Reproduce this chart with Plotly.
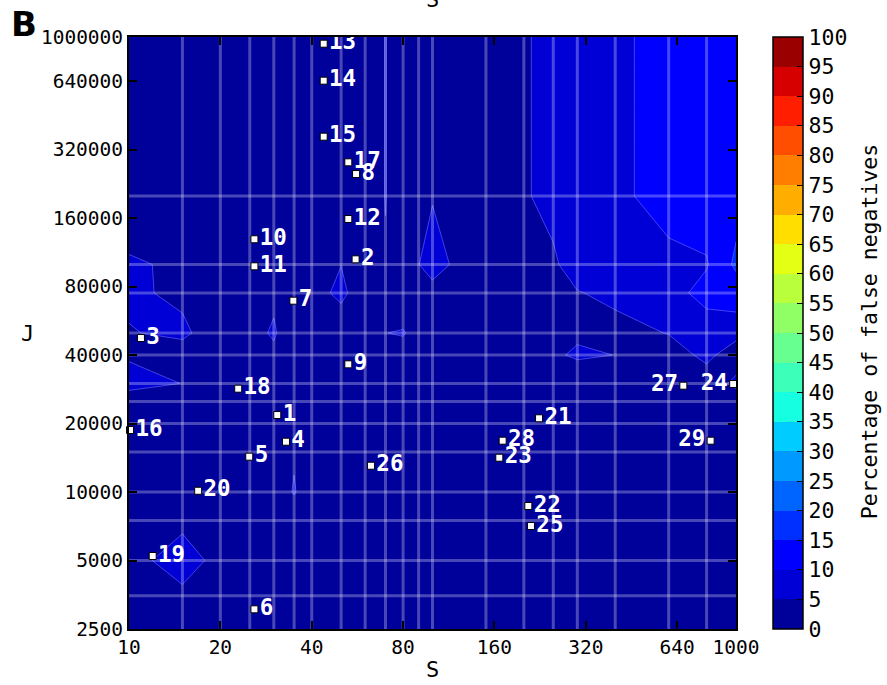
import numpy as np
import plotly.graph_objects as go

# Sampled grid: S along columns, J along rows
s_grid = [10, 15, 20, 25, 30, 35, 40, 50, 60, 70, 80, 90, 100,
          150, 200, 250, 300, 400, 600, 800, 1000]
j_grid = [2500, 3500, 5000, 7500, 10000, 15000, 20000, 25000, 30000,
          40000, 50000, 75000, 100000, 200000, 1000000]

# Percentage of false negatives, one row per J value (columns follow s_grid)
fn_j2500 = [0, 0, 0, 0, 0, 0, 0, 0, 0, 0, 0, 0, 0, 0, 0, 0, 0, 0, 0, 0, 0]
fn_j3500 = [0, 3.6, 0, 0, 0, 0, 0, 0, 0, 0, 0, 0, 0, 0, 0, 0, 0, 0, 0, 0, 0]
fn_j5000 = [2.68, 8, 2.9, 0, 0, 0, 0, 0, 0, 0, 0, 0, 0, 0, 0, 0, 0, 0, 0, 0, 0]
fn_j7500 = [0, 3.5, 0, 0, 0, 0, 0, 0, 0, 0, 0, 0, 0, 0, 0, 0, 0, 0, 0, 0, 0]
fn_j10000 = [0, 0, 0, 5.3, 0, 5.6, 0, 0, 0, 0, 0, 0, 0, 0, 0, 0, 0, 0, 0, 0, 0]
fn_j15000 = [0, 0, 0, 0, 0, 4.18, 0, 0, 0, 0, 0, 0, 0, 0, 0, 0, 0, 0, 0, 0, 0]
fn_j20000 = [0, 0, 0, 0, 0, 0, 0, 0, 5.1, 0, 0, 0, 0, 0, 0, 0, 0, 0, 0, 0, 0]
fn_j25000 = [1.8, 0, 0, 0, 0, 0, 0, 0, 0, 0, 0, 0, 0, 0, 0, 0, 0, 0, 0, 0, 0]
fn_j30000 = [7, 4.9, 0, 0, 0, 0, 0, 0, 0, 0, 0, 0, 0, 0, 0, 0, 0, 0, 0, 0, 7]
fn_j40000 = [4.39, 2.35, 0, 0, 4.05, 0, 0, 0, 0, 0, 2.17, 0, 0, 0, 0, 3.96, 6, 4.92, 0.63, 7.25, 0]
fn_j50000 = [4.68, 6.12, 1.64, 3.58, 5.5, 2.17, 0, 0.8, 0, 4.92, 5.5, 2.72, 0, 0, 0, 0, 3.89, 2.28, 5.3, 7.29, 7.8]
fn_j75000 = [6, 3.87, 0, 0, 4.16, 0, 2.45, 6.5, 0.94, 0, 0, 0, 3.34, 0, 0, 0, 4.55, 7, 8, 11.8, 12]
fn_j100000 = [5.86, 3.89, 0, 0, 0, 0, 0, 4.9, 0, 4.5, 0, 4.9, 7, 0.71, 2, 3.6, 9.5, 9.2, 8.85, 9.61, 16]
fn_j200000 = [0, 0, 0, 0, 0, 0, 0, 0, 0, 5.2, 0, 0, 4.68, 0, 4, 7.94, 8.5, 9, 11.8, 12.5, 13]
fn_j1000000 = [0, 0, 0, 0, 0, 0, 0, 0, 0, 5.2, 0, 0, 0, 0, 4, 7.94, 8.5, 9, 11.8, 12.5, 13]

fn_rows = [fn_j2500, fn_j3500, fn_j5000, fn_j7500, fn_j10000, fn_j15000,
           fn_j20000, fn_j25000, fn_j30000, fn_j40000, fn_j50000, fn_j75000,
           fn_j100000, fn_j200000, fn_j1000000]

# Labelled data sets
set_ids = [str(i) for i in range(1, 30)]
set_s = [30.8, 55.8, 10.95, 32.9, 24.9, 25.9, 34.8, 56, 52.8, 25.9,
         25.9, 52.8, 43.8, 43.8, 43.8, 10.08, 52.8, 22.9, 11.97, 16.9,
         224.4, 206.9, 166, 979, 211.1, 62.7, 670.7, 170.3, 825]
set_j = [21800, 105400, 47530, 16640, 14300, 3051, 69340, 249900, 36410, 129100,
         98200, 158500, 934500, 642700, 364600, 18730, 281300, 28460, 5233, 10130,
         21090, 8680, 14150, 29830, 7090, 13050, 29330, 16810, 16810]
labels_left = {"24", "27", "29"}

x_ticks = [10, 20, 40, 80, 160, 320, 640, 1000]
y_ticks = [2500, 5000, 10000, 20000, 40000, 80000, 160000, 320000, 640000, 1000000]
levels = list(range(0, 101, 5))

MONO = "DejaVu Sans Mono"


def jet(v):
    """matplotlib 'jet' colormap sampled through a 256-entry lookup table."""
    i = min(int(v * 256), 255)
    x = i / 255.0
    r = np.interp(x, [0, 0.35, 0.66, 0.89, 1], [0, 0, 1, 1, 0.5])
    g = np.interp(x, [0, 0.125, 0.375, 0.64, 0.91, 1], [0, 0, 1, 1, 0, 0])
    b = np.interp(x, [0, 0.11, 0.34, 0.65, 1], [0.5, 1, 1, 0, 0])
    return "rgb(%d,%d,%d)" % (round(r * 255), round(g * 255), round(b * 255))


# One colour per 5 % band, taken at the band centre
n_bands = len(levels) - 1
band_cols = [jet((k + 0.5) / n_bands) for k in range(n_bands)]

# Fill colour map for the contour trace: plotly samples it at
# (level + size/2), spread over n_lines + 1 slots.
n_slots = len(levels)
fill_scale = [[0.0, band_cols[0]]]
for k, c in enumerate(band_cols):
    fill_scale.append([(k + 1) / n_slots, c])
fill_scale.append([1.0, band_cols[-1]])

# Stepped scale for the colour bar, spanning exactly 0..100
bar_scale = []
for k, c in enumerate(band_cols):
    bar_scale.append([k / n_bands, c])
    bar_scale.append([(k + 1) / n_bands, c])

fig = go.Figure()

fig.add_trace(go.Contour(
    x=s_grid, y=j_grid, z=fn_rows,
    autocontour=False,
    contours=dict(start=levels[0], end=levels[-1], size=5, coloring="fill", showlines=False),
    line=dict(width=0, smoothing=0),
    colorscale=fill_scale, showscale=False,
    hoverinfo="skip",
))

# thin boundary lines between the filled bands
fig.add_trace(go.Contour(
    x=s_grid, y=j_grid, z=fn_rows,
    autocontour=False,
    contours=dict(start=5, end=levels[-1], size=5, coloring="none", showlines=True),
    line=dict(width=0.8, color="rgba(110,110,255,0.75)", smoothing=0),
    showscale=False, hoverinfo="skip",
))

# sampling grid
gx, gy = [], []
for s in s_grid[1:-1]:
    gx += [s, s, None]
    gy += [j_grid[0], j_grid[-1], None]
for j in j_grid[1:-1]:
    gx += [s_grid[0], s_grid[-1], None]
    gy += [j, j, None]
fig.add_trace(go.Scatter(
    x=gx, y=gy, mode="lines",
    line=dict(color="rgba(255,255,255,0.28)", width=3),
    hoverinfo="skip", showlegend=False,
))

fig.add_trace(go.Scatter(
    x=set_s, y=set_j, mode="markers+text",
    text=set_ids,
    textposition=["middle left" if t in labels_left else "middle right" for t in set_ids],
    textfont=dict(family=MONO, size=22.5, color="white", weight="bold"),
    marker=dict(symbol="square", size=7, color="white", line=dict(color="black", width=1)),
    cliponaxis=False,
    hoverinfo="skip", showlegend=False,
))

# colour bar carrier (no visible mark)
fig.add_trace(go.Scatter(
    x=[s_grid[0]], y=[j_grid[0]], mode="markers",
    marker=dict(
        size=1, opacity=0, color=[levels[0]], cmin=levels[0], cmax=levels[-1],
        colorscale=bar_scale, showscale=True,
        colorbar=dict(
            thickness=30, len=1, lenmode="fraction",
            x=1.061, xanchor="left", xpad=0, y=0.5, yanchor="middle", ypad=0,
            outlinewidth=1.5, outlinecolor="black",
            ticks="inside", ticklen=6, tickwidth=1, tickcolor="black",
            tickvals=levels, ticktext=[str(v) for v in levels],
            tickfont=dict(family=MONO, size=21.5, color="black"),
        ),
    ),
    hoverinfo="skip", showlegend=False,
))

axis_common = dict(
    type="log", showgrid=False, zeroline=False,
    showline=True, linecolor="black", linewidth=2, mirror="ticks",
    ticks="inside", ticklen=8, tickwidth=1.5, tickcolor="black",
    tickfont=dict(family=MONO, size=19.5, color="black"),
)

fig.update_layout(
    width=887, height=685,
    margin=dict(l=129, r=151, t=37, b=56),
    paper_bgcolor="white", plot_bgcolor=band_cols[0],
    showlegend=False,
    xaxis=dict(axis_common, range=[np.log10(s_grid[0]), np.log10(s_grid[-1])],
               tickvals=x_ticks, ticktext=[str(v) for v in x_ticks]),
    yaxis=dict(axis_common, range=[np.log10(j_grid[0]), np.log10(j_grid[-1])],
               tickvals=y_ticks, ticktext=[str(v) for v in y_ticks]),
    annotations=[
        dict(text="S", xref="paper", yref="paper", x=0.5, y=-0.069,
             xanchor="center", yanchor="middle", showarrow=False,
             font=dict(family=MONO, size=22, color="black")),
        dict(text="S", xref="paper", yref="paper", x=0.5, y=1.064,
             xanchor="center", yanchor="middle", showarrow=False,
             font=dict(family=MONO, size=22, color="black")),
        dict(text="J", xref="paper", yref="paper", x=-0.168, y=0.5,
             xanchor="center", yanchor="middle", showarrow=False,
             font=dict(family=MONO, size=22, color="black")),
        dict(text="Percentage of false negatives", xref="paper", yref="paper",
             x=1.219, y=0.503, textangle=-90,
             xanchor="center", yanchor="middle", showarrow=False,
             font=dict(family=MONO, size=21.5, color="black")),
        dict(text="<b>B</b>", xref="paper", yref="paper", x=-0.198, y=1.022,
             xanchor="left", yanchor="middle", showarrow=False,
             font=dict(family="DejaVu Sans", size=34, color="black")),
    ],
)

fig.write_html("out.html")
